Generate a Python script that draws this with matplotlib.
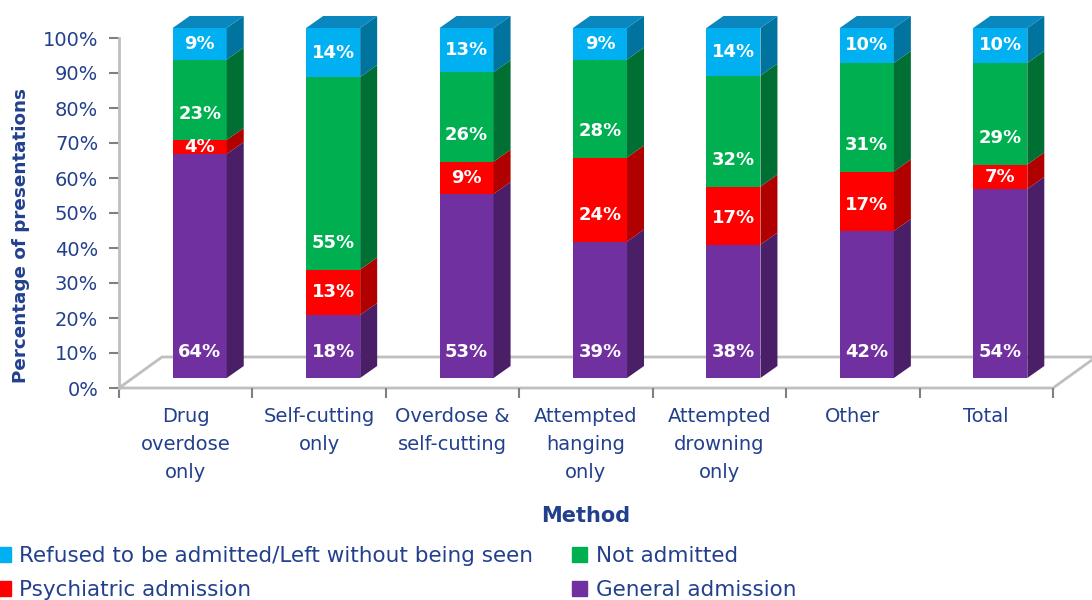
import matplotlib

matplotlib.use("Agg")
import matplotlib.pyplot as plt
from matplotlib.patches import Patch, Polygon
from matplotlib.transforms import Affine2D

categories = ["Drug\noverdose\nonly", "Self-cutting\nonly", "Overdose &\nself-cutting",
              "Attempted\nhanging\nonly", "Attempted\ndrowning\nonly", "Other", "Total"]
general = [64, 18, 52.6, 39, 38.1, 42, 54]
psych = [4, 13, 9.2, 24, 16.6, 17, 7]
not_adm = [23, 55, 25.6, 28, 31.7, 31, 29]
refused = [9, 14, 12.6, 9, 13.6, 10, 10]
yticks = list(range(0, 101, 10))

series = [
    ("General admission", general, "#7030A0", "#4A1F68"),
    ("Psychiatric admission", psych, "#FF0000", "#B00000"),
    ("Not admitted", not_adm, "#00B050", "#006F33"),
    ("Refused to be admitted/Left without being seen", refused, "#00B0F0", "#00739F"),
]
TOP_FACE = "#0A87BE"
NAVY = "#23408E"
plt.rcParams["font.family"] = ["DejaVu Sans"]

W, H, DPI = 1092, 600, 100
fig = plt.figure(figsize=(W / DPI, H / DPI), dpi=DPI)
# front plane of the 3-D box, in pixels: x 119..1053, y 388..38
ax = fig.add_axes([119 / W, 1 - 388 / H, 934 / W, 350 / H])
n = len(categories)
ax.set_xlim(-0.5, n - 0.5)
ax.set_ylim(0, 100)
px_x = 934 / n          # pixels per category
px_y = 350 / 100        # pixels per percent

# oblique depth (pixels): floor depth, bar front offset, bar depth
FLOOR = (43, 31)
BAR_OFF = (14, 10)
BAR_D = (17, 12)
fdx, fdy = FLOOR[0] / px_x, FLOOR[1] / px_y
bdx, bdy = BAR_D[0] / px_x, BAR_D[1] / px_y

# floor
floor = Polygon([(-0.5, 0), (n - 0.5, 0), (n - 0.5 + fdx, fdy), (-0.5 + fdx, fdy)],
                closed=True, facecolor="white", edgecolor="#BFBFBF", lw=2,
                clip_on=False, zorder=1)
ax.add_patch(floor)

bar_tr = ax.transData + Affine2D().translate(*BAR_OFF)
width = 0.405
x = list(range(n))
bottoms = [0.0] * n
for name, vals, front, side in series:
    ax.bar(x, vals, width, bottom=bottoms, color=front, transform=bar_tr,
           clip_on=False, zorder=3, label=name)
    for i in x:
        b, v = bottoms[i], vals[i]
        xr = i + width / 2
        ax.add_patch(Polygon([(xr, b), (xr + bdx, b + bdy), (xr + bdx, b + v + bdy), (xr, b + v)],
                             closed=True, facecolor=side, edgecolor="none",
                             transform=bar_tr, clip_on=False, zorder=3))
        off = min(v / 2, 7.5)
        ax.text(i, b + off, f"{v:.0f}%", ha="center", va="center", color="white",
                fontsize=13, fontweight="bold",
                transform=bar_tr, clip_on=False, zorder=5)
    bottoms = [bt + v for bt, v in zip(bottoms, vals)]

# top faces
for i in x:
    xl, xr, t = i - width / 2, i + width / 2, bottoms[i]
    ax.add_patch(Polygon([(xl, t), (xr, t), (xr + bdx, t + bdy), (xl + bdx, t + bdy)],
                         closed=True, facecolor=TOP_FACE, edgecolor="none",
                         transform=bar_tr, clip_on=False, zorder=3))

# axes styling
for s in ["top", "right", "bottom"]:
    ax.spines[s].set_visible(False)
ax.spines["left"].set_color("#BFBFBF")
ax.spines["left"].set_linewidth(2)
ax.set_yticks(yticks)
ax.set_yticklabels([f"{t}%" for t in yticks], color=NAVY, fontsize=14)
ax.tick_params(axis="y", length=7, width=1.5, color="#808080", pad=8)
ax.set_xticks(x)
ax.set_xticklabels(categories, color=NAVY, fontsize=14, linespacing=1.6)
ax.set_xticks([i - 0.5 for i in range(n + 1)], minor=True)
ax.tick_params(axis="x", which="major", length=0, pad=14)
ax.tick_params(axis="x", which="minor", length=7, width=1.5, color="#808080")
ax.set_ylabel("Percentage of presentations", color=NAVY, fontsize=13.2,
              fontweight="bold")
ax.yaxis.set_label_coords(-0.095, 0.437)
ax.set_xlabel("Method", color=NAVY, fontsize=15, fontweight="bold", labelpad=17)

handles = [Patch(color=c) for _, _, c, _ in series]
names = [s[0] for s in series]
order = [3, 1, 2, 0]
fig.legend([handles[k] for k in order], [names[k] for k in order], ncol=2,
           loc="upper left", bbox_to_anchor=(-0.012, 1 - 537 / H),
           bbox_transform=fig.transFigure, frameon=False, fontsize=15.5,
           labelcolor=NAVY, handlelength=0.7, handleheight=0.7,
           handletextpad=0.4, columnspacing=1.8, labelspacing=0.68,
           borderaxespad=0)

fig.savefig("out.png", dpi=DPI, facecolor="white")
